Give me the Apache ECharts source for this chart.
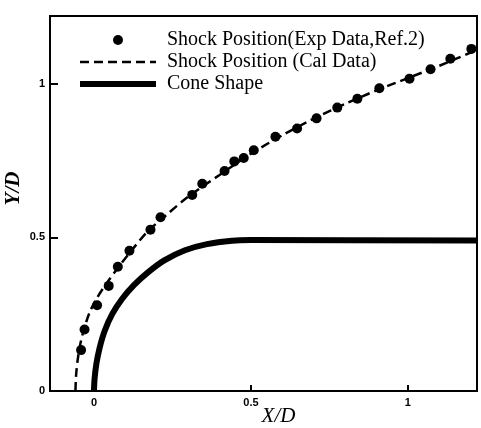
<!DOCTYPE html>
<html>
<head>
<meta charset="utf-8">
<script src="https://cdn.jsdelivr.net/npm/echarts@6/dist/echarts.min.js"></script>
<style>
html,body{margin:0;padding:0;background:#fff;}
#chart{width:481px;height:428px;}
</style>
</head>
<body>
<div id="chart"></div>
<script>
// Series names
const seriesNames = ['Shock Position(Exp Data,Ref.2)', 'Shock Position (Cal Data)', 'Cone Shape'];

// Experimental shock position points [X/D, Y/D]
const expX = [-0.041,-0.030,0.010,0.047,0.076,0.113,0.180,0.212,0.313,0.345,0.416,0.447,0.477,0.509,0.578,0.647,0.709,0.775,0.839,0.909,1.005,1.072,1.135,1.202];
const expY = [0.133,0.200,0.279,0.342,0.404,0.456,0.525,0.565,0.638,0.674,0.716,0.747,0.758,0.783,0.827,0.854,0.887,0.922,0.951,0.985,1.016,1.047,1.081,1.113];

// Calculated shock position (dashed)
const calX = [-0.059,-0.057,-0.052,-0.044,-0.032,-0.014,0.008,0.040,0.076,0.118,0.170,0.222,0.300,0.400,0.500,0.600,0.700,0.800,0.900,1.000,1.100,1.220];
const calY = [0.000,0.050,0.100,0.150,0.200,0.255,0.300,0.350,0.400,0.455,0.518,0.565,0.632,0.703,0.772,0.832,0.886,0.934,0.978,1.018,1.058,1.110];

// Cone shape (solid)
const coneX = [0.000,0.002,0.008,0.018,0.034,0.058,0.090,0.128,0.172,0.224,0.290,0.360,0.440,0.500,1.220];
const coneY = [0.000,0.040,0.090,0.140,0.195,0.250,0.300,0.345,0.386,0.425,0.458,0.478,0.489,0.491,0.490];

// Tick values
const xTicks = [0, 0.5, 1];
const yTicks = [0, 0.5, 1];
const xTickLabels = ['0', '0.5', '1'];
const yTickLabels = ['0', '0.5', '1'];

const zip = (a, b) => a.map((v, i) => [v, b[i]]);

const chart = echarts.init(document.getElementById('chart'), null, {renderer: 'canvas'});
const labelStyle = {fontFamily: 'Liberation Sans', fontWeight: 'bold', fontSize: 11, color: '#000'};
const hiddenSym = {opacity: 0};

chart.setOption({
  backgroundColor: '#fff',
  animation: false,
  grid: {left: 50, right: 4, top: 16, bottom: 37, containLabel: false, outerBoundsMode: 'none',
         show: true, borderColor: '#000', borderWidth: 2, backgroundColor: 'transparent'},
  legend: {
    orient: 'vertical', left: 77, top: 30, padding: 0,
    itemWidth: 76, itemHeight: 10, itemGap: 2,
    data: [
      {name: seriesNames[0]},
      {name: seriesNames[1], itemStyle: hiddenSym, lineStyle: {width: 2.5, type: [9, 5], color: '#000'}},
      {name: seriesNames[2], itemStyle: hiddenSym, lineStyle: {width: 6, type: 'solid', color: '#000'}}
    ],
    textStyle: {fontFamily: 'Liberation Serif', fontSize: 20, color: '#000', padding: [0, 0, 0, 6]}
  },
  xAxis: {
    type: 'value', min: -0.14, max: 1.22,
    name: 'X/D', nameLocation: 'middle', nameGap: 15, nameMoveOverlap: false,
    nameTextStyle: {fontFamily: 'Liberation Serif', fontStyle: 'italic', fontSize: 21, color: '#000', padding: [0, 0, 0, 30]},
    axisLine: {show: true, onZero: false, lineStyle: {color: '#000', width: 2}},
    axisTick: {show: true, inside: true, length: 6, customValues: xTicks, lineStyle: {color: '#000', width: 2}},
    axisLabel: {customValues: xTicks, margin: 6, formatter: v => xTickLabels[xTicks.indexOf(v)], ...labelStyle},
    splitLine: {show: false}
  },
  yAxis: {
    type: 'value', min: 0, max: 1.22,
    name: 'Y/D', nameLocation: 'middle', nameGap: 26, nameRotate: 90, nameMoveOverlap: false,
    nameTextStyle: {fontFamily: 'Liberation Serif', fontStyle: 'italic', fontWeight: 'bold', fontSize: 21, color: '#000', padding: [0, 0, 0, 30]},
    axisLine: {show: true, onZero: false, lineStyle: {color: '#000', width: 2}},
    axisTick: {show: true, inside: true, length: 8, customValues: yTicks, lineStyle: {color: '#000', width: 2}},
    axisLabel: {customValues: yTicks, margin: 5, formatter: v => yTickLabels[yTicks.indexOf(v)], ...labelStyle},
    splitLine: {show: false}
  },
  series: [
    {
      name: seriesNames[0], type: 'scatter', data: zip(expX, expY),
      symbol: 'circle', symbolSize: 10, itemStyle: {color: '#000', opacity: 1}, z: 5
    },
    {
      name: seriesNames[1], type: 'line', data: zip(calX, calY),
      smooth: 0.3, showSymbol: false, symbol: 'none',
      itemStyle: {color: '#000'},
      lineStyle: {color: '#000', width: 2.5, type: [9, 5]}, z: 3
    },
    {
      name: seriesNames[2], type: 'line', data: zip(coneX, coneY),
      smooth: 0.3, showSymbol: false, symbol: 'none',
      itemStyle: {color: '#000'},
      lineStyle: {color: '#000', width: 6}, z: 3
    }
  ]
});
</script>
</body>
</html>
